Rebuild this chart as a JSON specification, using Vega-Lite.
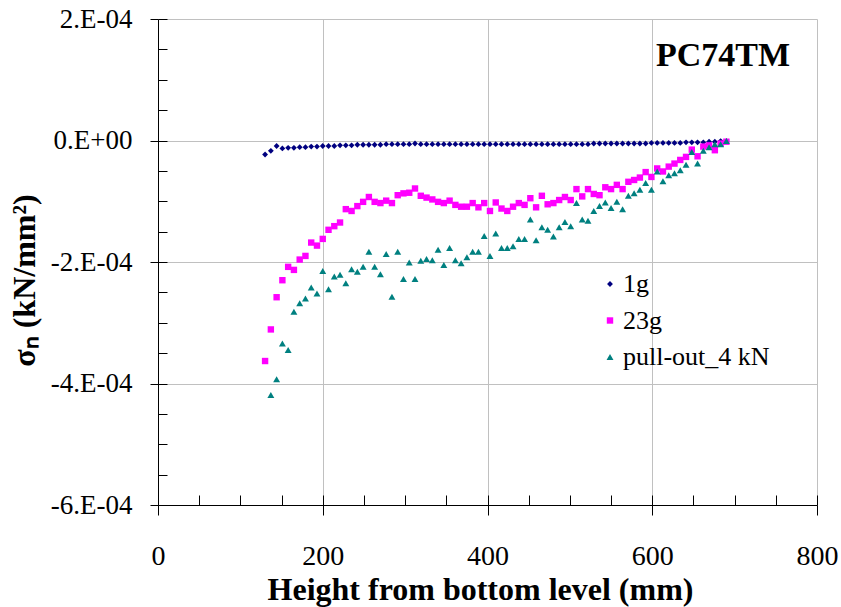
{
  "$schema": "https://vega.github.io/schema/vega-lite/v6.json",
  "width": 659,
  "height": 486,
  "autosize": "none",
  "padding": {"left": 158, "top": 19, "right": 24, "bottom": 102},
  "background": "white",
  "title": {"text": "PC74TM", "anchor": "end", "frame": "group", "orient": "top", "offset": -95, "dx": -27, "baseline": "alphabetic", "font": "Liberation Serif", "fontSize": 34, "fontWeight": "bold", "color": "black"},
  "config": {"view": {"stroke": null}},
  "data": {"values": [
    {"h":130,"s":-0.23e-4,"series":"1g"},{"h":137,"s":-0.17e-4,"series":"1g"},{"h":144,"s":-0.09e-4,"series":"1g"},{"h":151,"s":-0.13e-4,"series":"1g"},{"h":158,"s":-0.12e-4,"series":"1g"},{"h":165,"s":-0.12e-4,"series":"1g"},{"h":172,"s":-0.11e-4,"series":"1g"},{"h":179,"s":-0.11e-4,"series":"1g"},{"h":186,"s":-0.10e-4,"series":"1g"},{"h":193,"s":-0.10e-4,"series":"1g"},{"h":200,"s":-0.09e-4,"series":"1g"},{"h":207,"s":-0.09e-4,"series":"1g"},{"h":214,"s":-0.09e-4,"series":"1g"},{"h":221,"s":-0.08e-4,"series":"1g"},{"h":228,"s":-0.08e-4,"series":"1g"},{"h":235,"s":-0.08e-4,"series":"1g"},{"h":242,"s":-0.07e-4,"series":"1g"},{"h":249,"s":-0.07e-4,"series":"1g"},{"h":256,"s":-0.07e-4,"series":"1g"},{"h":263,"s":-0.07e-4,"series":"1g"},{"h":270,"s":-0.07e-4,"series":"1g"},{"h":277,"s":-0.06e-4,"series":"1g"},{"h":284,"s":-0.06e-4,"series":"1g"},{"h":291,"s":-0.06e-4,"series":"1g"},{"h":298,"s":-0.06e-4,"series":"1g"},{"h":305,"s":-0.06e-4,"series":"1g"},{"h":312,"s":-0.05e-4,"series":"1g"},{"h":319,"s":-0.06e-4,"series":"1g"},{"h":326,"s":-0.06e-4,"series":"1g"},{"h":333,"s":-0.06e-4,"series":"1g"},{"h":340,"s":-0.06e-4,"series":"1g"},{"h":347,"s":-0.06e-4,"series":"1g"},{"h":354,"s":-0.06e-4,"series":"1g"},{"h":361,"s":-0.06e-4,"series":"1g"},{"h":368,"s":-0.06e-4,"series":"1g"},{"h":375,"s":-0.06e-4,"series":"1g"},{"h":382,"s":-0.06e-4,"series":"1g"},{"h":389,"s":-0.06e-4,"series":"1g"},{"h":396,"s":-0.06e-4,"series":"1g"},{"h":403,"s":-0.06e-4,"series":"1g"},{"h":410,"s":-0.06e-4,"series":"1g"},{"h":417,"s":-0.06e-4,"series":"1g"},{"h":424,"s":-0.06e-4,"series":"1g"},{"h":431,"s":-0.06e-4,"series":"1g"},{"h":438,"s":-0.06e-4,"series":"1g"},{"h":445,"s":-0.06e-4,"series":"1g"},{"h":452,"s":-0.06e-4,"series":"1g"},{"h":459,"s":-0.06e-4,"series":"1g"},{"h":466,"s":-0.06e-4,"series":"1g"},{"h":473,"s":-0.06e-4,"series":"1g"},{"h":480,"s":-0.06e-4,"series":"1g"},{"h":487,"s":-0.06e-4,"series":"1g"},{"h":494,"s":-0.06e-4,"series":"1g"},{"h":501,"s":-0.06e-4,"series":"1g"},{"h":508,"s":-0.06e-4,"series":"1g"},{"h":515,"s":-0.06e-4,"series":"1g"},{"h":522,"s":-0.06e-4,"series":"1g"},{"h":529,"s":-0.05e-4,"series":"1g"},{"h":536,"s":-0.05e-4,"series":"1g"},{"h":543,"s":-0.05e-4,"series":"1g"},{"h":550,"s":-0.05e-4,"series":"1g"},{"h":557,"s":-0.05e-4,"series":"1g"},{"h":564,"s":-0.05e-4,"series":"1g"},{"h":571,"s":-0.05e-4,"series":"1g"},{"h":578,"s":-0.05e-4,"series":"1g"},{"h":585,"s":-0.05e-4,"series":"1g"},{"h":592,"s":-0.05e-4,"series":"1g"},{"h":599,"s":-0.04e-4,"series":"1g"},{"h":606,"s":-0.04e-4,"series":"1g"},{"h":613,"s":-0.04e-4,"series":"1g"},{"h":620,"s":-0.04e-4,"series":"1g"},{"h":627,"s":-0.04e-4,"series":"1g"},{"h":634,"s":-0.04e-4,"series":"1g"},{"h":641,"s":-0.03e-4,"series":"1g"},{"h":648,"s":-0.03e-4,"series":"1g"},{"h":655,"s":-0.03e-4,"series":"1g"},{"h":662,"s":-0.03e-4,"series":"1g"},{"h":669,"s":-0.02e-4,"series":"1g"},{"h":676,"s":-0.02e-4,"series":"1g"},{"h":683,"s":-0.01e-4,"series":"1g"},{"h":690,"s":-0.01e-4,"series":"1g"},
    {"h":130,"s":-3.63e-4,"series":"23g"},{"h":137,"s":-3.11e-4,"series":"23g"},{"h":144,"s":-2.58e-4,"series":"23g"},{"h":151,"s":-2.30e-4,"series":"23g"},{"h":158,"s":-2.08e-4,"series":"23g"},{"h":165,"s":-2.13e-4,"series":"23g"},{"h":172,"s":-1.96e-4,"series":"23g"},{"h":179,"s":-1.90e-4,"series":"23g"},{"h":186,"s":-1.68e-4,"series":"23g"},{"h":193,"s":-1.73e-4,"series":"23g"},{"h":200,"s":-1.62e-4,"series":"23g"},{"h":207,"s":-1.47e-4,"series":"23g"},{"h":214,"s":-1.41e-4,"series":"23g"},{"h":221,"s":-1.35e-4,"series":"23g"},{"h":228,"s":-1.13e-4,"series":"23g"},{"h":235,"s":-1.16e-4,"series":"23g"},{"h":242,"s":-1.08e-4,"series":"23g"},{"h":249,"s":-1.01e-4,"series":"23g"},{"h":256,"s":-0.93e-4,"series":"23g"},{"h":263,"s":-1.01e-4,"series":"23g"},{"h":270,"s":-1.03e-4,"series":"23g"},{"h":277,"s":-0.99e-4,"series":"23g"},{"h":284,"s":-1.03e-4,"series":"23g"},{"h":291,"s":-0.90e-4,"series":"23g"},{"h":298,"s":-0.87e-4,"series":"23g"},{"h":305,"s":-0.86e-4,"series":"23g"},{"h":312,"s":-0.79e-4,"series":"23g"},{"h":319,"s":-0.91e-4,"series":"23g"},{"h":326,"s":-0.94e-4,"series":"23g"},{"h":333,"s":-0.97e-4,"series":"23g"},{"h":340,"s":-1.01e-4,"series":"23g"},{"h":347,"s":-1.03e-4,"series":"23g"},{"h":354,"s":-0.99e-4,"series":"23g"},{"h":361,"s":-1.06e-4,"series":"23g"},{"h":368,"s":-1.09e-4,"series":"23g"},{"h":375,"s":-1.09e-4,"series":"23g"},{"h":382,"s":-1.03e-4,"series":"23g"},{"h":389,"s":-1.10e-4,"series":"23g"},{"h":396,"s":-1.03e-4,"series":"23g"},{"h":403,"s":-1.16e-4,"series":"23g"},{"h":410,"s":-1.02e-4,"series":"23g"},{"h":417,"s":-1.12e-4,"series":"23g"},{"h":424,"s":-1.16e-4,"series":"23g"},{"h":431,"s":-1.09e-4,"series":"23g"},{"h":438,"s":-1.03e-4,"series":"23g"},{"h":445,"s":-1.06e-4,"series":"23g"},{"h":452,"s":-0.95e-4,"series":"23g"},{"h":459,"s":-1.10e-4,"series":"23g"},{"h":466,"s":-0.91e-4,"series":"23g"},{"h":473,"s":-1.05e-4,"series":"23g"},{"h":480,"s":-1.03e-4,"series":"23g"},{"h":487,"s":-0.98e-4,"series":"23g"},{"h":494,"s":-0.93e-4,"series":"23g"},{"h":501,"s":-0.98e-4,"series":"23g"},{"h":508,"s":-0.80e-4,"series":"23g"},{"h":515,"s":-0.92e-4,"series":"23g"},{"h":522,"s":-0.80e-4,"series":"23g"},{"h":529,"s":-0.88e-4,"series":"23g"},{"h":536,"s":-0.90e-4,"series":"23g"},{"h":543,"s":-0.77e-4,"series":"23g"},{"h":550,"s":-0.80e-4,"series":"23g"},{"h":557,"s":-0.73e-4,"series":"23g"},{"h":564,"s":-0.80e-4,"series":"23g"},{"h":571,"s":-0.68e-4,"series":"23g"},{"h":578,"s":-0.65e-4,"series":"23g"},{"h":585,"s":-0.61e-4,"series":"23g"},{"h":592,"s":-0.52e-4,"series":"23g"},{"h":599,"s":-0.60e-4,"series":"23g"},{"h":606,"s":-0.46e-4,"series":"23g"},{"h":613,"s":-0.51e-4,"series":"23g"},{"h":620,"s":-0.43e-4,"series":"23g"},{"h":627,"s":-0.38e-4,"series":"23g"},{"h":634,"s":-0.32e-4,"series":"23g"},{"h":641,"s":-0.27e-4,"series":"23g"},{"h":648,"s":-0.15e-4,"series":"23g"},{"h":655,"s":-0.26e-4,"series":"23g"},{"h":662,"s":-0.10e-4,"series":"23g"},{"h":669,"s":-0.08e-4,"series":"23g"},{"h":676,"s":-0.16e-4,"series":"23g"},{"h":683,"s":-0.05e-4,"series":"23g"},{"h":690,"s":-0.02e-4,"series":"23g"},
    {"h":137,"s":-4.19e-4,"series":"pull-out_4 kN"},{"h":144,"s":-3.93e-4,"series":"pull-out_4 kN"},{"h":151,"s":-3.34e-4,"series":"pull-out_4 kN"},{"h":158,"s":-3.45e-4,"series":"pull-out_4 kN"},{"h":165,"s":-2.82e-4,"series":"pull-out_4 kN"},{"h":172,"s":-2.68e-4,"series":"pull-out_4 kN"},{"h":179,"s":-2.60e-4,"series":"pull-out_4 kN"},{"h":186,"s":-2.42e-4,"series":"pull-out_4 kN"},{"h":193,"s":-2.52e-4,"series":"pull-out_4 kN"},{"h":200,"s":-2.15e-4,"series":"pull-out_4 kN"},{"h":207,"s":-2.45e-4,"series":"pull-out_4 kN"},{"h":214,"s":-2.24e-4,"series":"pull-out_4 kN"},{"h":221,"s":-2.21e-4,"series":"pull-out_4 kN"},{"h":228,"s":-2.35e-4,"series":"pull-out_4 kN"},{"h":235,"s":-2.12e-4,"series":"pull-out_4 kN"},{"h":242,"s":-2.16e-4,"series":"pull-out_4 kN"},{"h":249,"s":-2.08e-4,"series":"pull-out_4 kN"},{"h":256,"s":-1.83e-4,"series":"pull-out_4 kN"},{"h":263,"s":-2.08e-4,"series":"pull-out_4 kN"},{"h":270,"s":-2.20e-4,"series":"pull-out_4 kN"},{"h":277,"s":-1.87e-4,"series":"pull-out_4 kN"},{"h":284,"s":-2.57e-4,"series":"pull-out_4 kN"},{"h":291,"s":-1.83e-4,"series":"pull-out_4 kN"},{"h":298,"s":-2.28e-4,"series":"pull-out_4 kN"},{"h":305,"s":-2.01e-4,"series":"pull-out_4 kN"},{"h":312,"s":-2.28e-4,"series":"pull-out_4 kN"},{"h":319,"s":-1.98e-4,"series":"pull-out_4 kN"},{"h":326,"s":-1.95e-4,"series":"pull-out_4 kN"},{"h":333,"s":-1.97e-4,"series":"pull-out_4 kN"},{"h":340,"s":-1.80e-4,"series":"pull-out_4 kN"},{"h":347,"s":-2.05e-4,"series":"pull-out_4 kN"},{"h":354,"s":-1.77e-4,"series":"pull-out_4 kN"},{"h":361,"s":-1.97e-4,"series":"pull-out_4 kN"},{"h":368,"s":-2.02e-4,"series":"pull-out_4 kN"},{"h":375,"s":-1.92e-4,"series":"pull-out_4 kN"},{"h":382,"s":-1.83e-4,"series":"pull-out_4 kN"},{"h":389,"s":-1.83e-4,"series":"pull-out_4 kN"},{"h":396,"s":-1.57e-4,"series":"pull-out_4 kN"},{"h":403,"s":-1.90e-4,"series":"pull-out_4 kN"},{"h":410,"s":-1.53e-4,"series":"pull-out_4 kN"},{"h":417,"s":-1.77e-4,"series":"pull-out_4 kN"},{"h":424,"s":-1.77e-4,"series":"pull-out_4 kN"},{"h":431,"s":-1.74e-4,"series":"pull-out_4 kN"},{"h":438,"s":-1.62e-4,"series":"pull-out_4 kN"},{"h":445,"s":-1.62e-4,"series":"pull-out_4 kN"},{"h":452,"s":-1.30e-4,"series":"pull-out_4 kN"},{"h":459,"s":-1.64e-4,"series":"pull-out_4 kN"},{"h":466,"s":-1.43e-4,"series":"pull-out_4 kN"},{"h":473,"s":-1.47e-4,"series":"pull-out_4 kN"},{"h":480,"s":-1.58e-4,"series":"pull-out_4 kN"},{"h":487,"s":-1.43e-4,"series":"pull-out_4 kN"},{"h":494,"s":-1.34e-4,"series":"pull-out_4 kN"},{"h":501,"s":-1.41e-4,"series":"pull-out_4 kN"},{"h":508,"s":-1.03e-4,"series":"pull-out_4 kN"},{"h":515,"s":-1.30e-4,"series":"pull-out_4 kN"},{"h":522,"s":-1.32e-4,"series":"pull-out_4 kN"},{"h":529,"s":-1.16e-4,"series":"pull-out_4 kN"},{"h":536,"s":-1.08e-4,"series":"pull-out_4 kN"},{"h":543,"s":-1.02e-4,"series":"pull-out_4 kN"},{"h":550,"s":-1.11e-4,"series":"pull-out_4 kN"},{"h":557,"s":-1.01e-4,"series":"pull-out_4 kN"},{"h":564,"s":-1.13e-4,"series":"pull-out_4 kN"},{"h":571,"s":-0.91e-4,"series":"pull-out_4 kN"},{"h":578,"s":-0.87e-4,"series":"pull-out_4 kN"},{"h":585,"s":-0.81e-4,"series":"pull-out_4 kN"},{"h":592,"s":-0.70e-4,"series":"pull-out_4 kN"},{"h":599,"s":-0.81e-4,"series":"pull-out_4 kN"},{"h":606,"s":-0.51e-4,"series":"pull-out_4 kN"},{"h":613,"s":-0.67e-4,"series":"pull-out_4 kN"},{"h":620,"s":-0.57e-4,"series":"pull-out_4 kN"},{"h":627,"s":-0.54e-4,"series":"pull-out_4 kN"},{"h":634,"s":-0.49e-4,"series":"pull-out_4 kN"},{"h":641,"s":-0.40e-4,"series":"pull-out_4 kN"},{"h":648,"s":-0.19e-4,"series":"pull-out_4 kN"},{"h":655,"s":-0.38e-4,"series":"pull-out_4 kN"},{"h":662,"s":-0.17e-4,"series":"pull-out_4 kN"},{"h":669,"s":-0.11e-4,"series":"pull-out_4 kN"},{"h":676,"s":-0.06e-4,"series":"pull-out_4 kN"},{"h":683,"s":-0.06e-4,"series":"pull-out_4 kN"},{"h":690,"s":-0.01e-4,"series":"pull-out_4 kN"}
  ]},
  "layer": [
    {
      "mark": {"type": "point", "filled": true, "opacity": 1},
      "encoding": {
        "x": {"field": "h", "type": "quantitative", "scale": {"domain": [0, 800], "nice": false},
          "axis": {"orient": "bottom", "values": [0, 200, 400, 600, 800], "grid": true, "gridColor": "#c0c0c0", "gridWidth": 1, "tickSize": 10, "tickColor": "black", "domainColor": "black", "domainWidth": 1, "labelFont": "Liberation Serif", "labelFontSize": 28, "labelColor": "black", "labelPadding": 27, "labelFlush": false, "title": "Height from bottom level  (mm)", "titleFont": "Liberation Serif", "titleFontSize": 32, "titleFontWeight": "bold", "titleColor": "black", "titleX": 322, "titleY": 94, "titleBaseline": "alphabetic"}},
        "y": {"field": "s", "type": "quantitative", "scale": {"domain": [-0.0006, 0.0002], "nice": false, "zero": false},
          "axis": {"orient": "left", "values": [-0.0006, -0.0004, -0.0002, 0, 0.0002], "labelExpr": "datum.value == 0 ? '0.E+00' : (datum.value < 0 ? '-' : '') + abs(round(datum.value * 10000)) + '.E-04'", "grid": true, "gridColor": "#c0c0c0", "gridWidth": 1, "tickSize": 8, "tickColor": "black", "domainColor": "black", "domainWidth": 1, "labelFont": "Liberation Serif", "labelFontSize": 27, "labelColor": "black", "labelPadding": 18, "labelFlush": false, "title": "σₙ  (kN/mm²)", "titleFont": "Liberation Serif", "titleFontSize": 32, "titleFontWeight": "bold", "titleColor": "black", "titleX": -134, "titleY": 261, "titleBaseline": "middle"}},
        "color": {"field": "series", "type": "nominal", "scale": {"domain": ["1g", "23g", "pull-out_4 kN"], "range": ["#000080", "#ff00ff", "#008080"]},
          "legend": {"orient": "none", "legendX": 439, "legendY": 252, "title": null, "labelFont": "Liberation Serif", "labelFontSize": 26, "labelColor": "black", "symbolSize": 30, "rowPadding": 10.5, "labelOffset": 0, "padding": 0, "symbolStrokeWidth": 0}},
        "shape": {"field": "series", "type": "nominal", "scale": {"domain": ["1g", "23g", "pull-out_4 kN"], "range": ["diamond", "square", "triangle-up"]}},
        "size": {"field": "series", "type": "ordinal", "scale": {"domain": ["1g", "23g", "pull-out_4 kN"], "range": [34, 48, 52]}, "legend": null}
      }
    },
    {
      "mark": {"type": "point", "opacity": 0},
      "encoding": {
        "x": {"field": "h", "type": "quantitative", "scale": {"domain": [0, 800], "nice": false},
          "axis": {"orient": "bottom", "values": [0, 50, 100, 150, 200, 250, 300, 350, 400, 450, 500, 550, 600, 650, 700, 750, 800], "tickSize": -10, "tickColor": "black", "labels": false, "domain": false, "grid": false, "title": null}},
        "y": {"field": "s", "type": "quantitative", "scale": {"domain": [-0.0006, 0.0002], "nice": false, "zero": false},
          "axis": {"orient": "left", "values": [-0.0006, -0.00055, -0.0005, -0.00045, -0.0004, -0.00035, -0.0003, -0.00025, -0.0002, -0.00015, -0.0001, -0.00005, 0, 0.00005, 0.0001, 0.00015, 0.0002], "tickSize": -9, "tickColor": "black", "labels": false, "domain": false, "grid": false, "title": null}}
      }
    }
  ],
  "resolve": {"axis": {"x": "independent", "y": "independent"}}
}
